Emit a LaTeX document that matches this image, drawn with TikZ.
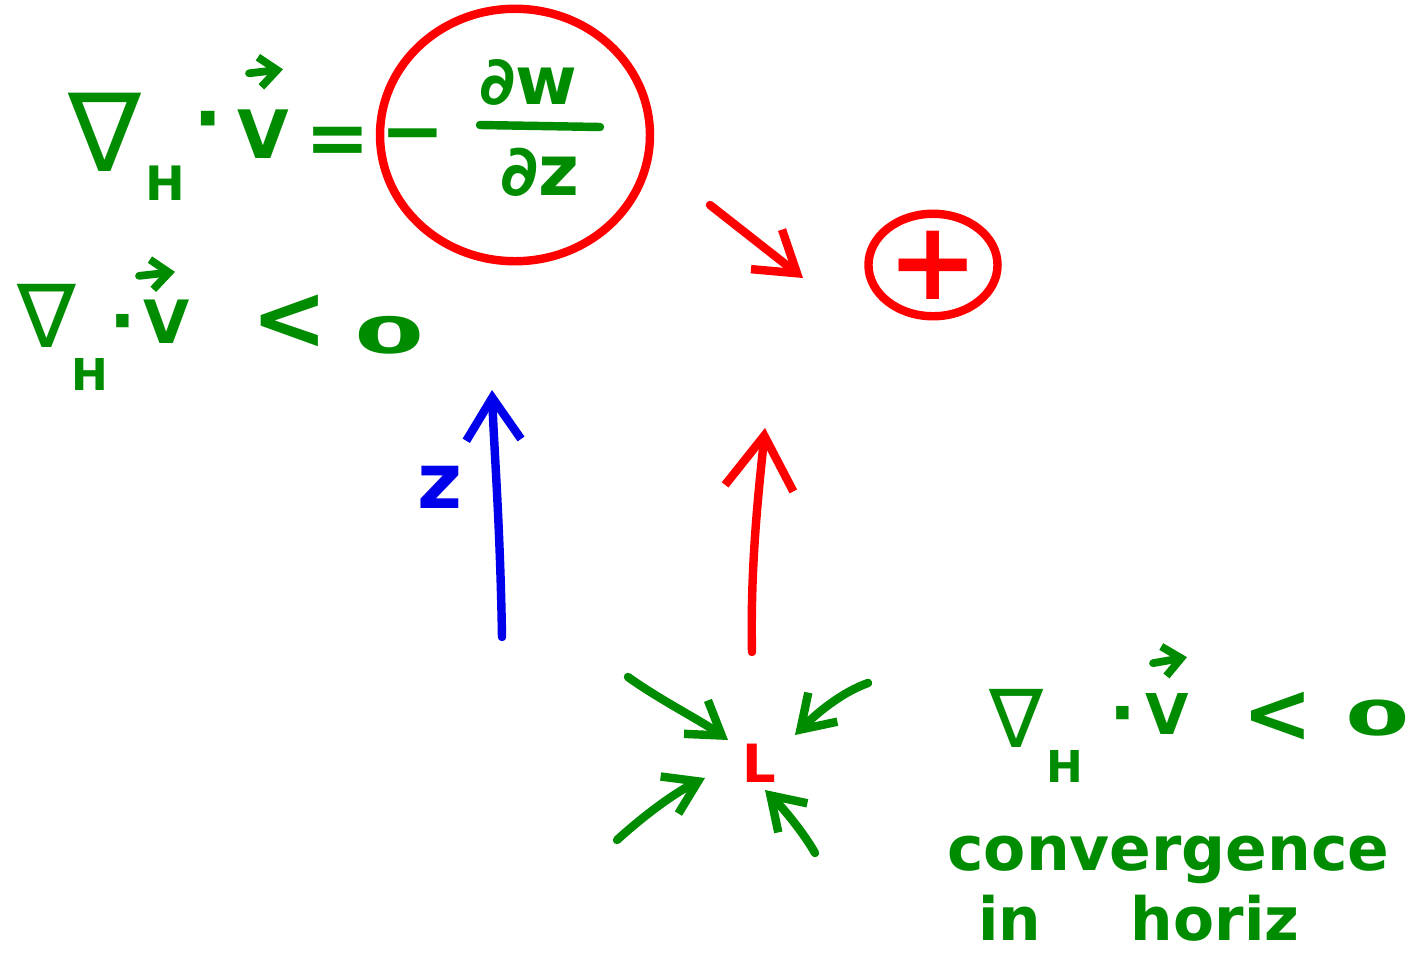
\documentclass[tikz,border=0pt]{standalone}
\usepackage{fontspec}
\setmainfont{DejaVu Sans}
\usetikzlibrary{arrows.meta,shapes.geometric,calc}
\definecolor{pengreen}{RGB}{0,140,0}
\definecolor{penred}{RGB}{255,0,0}
\definecolor{penblue}{RGB}{0,0,235}
\tikzset{
  txt/.style={inner sep=0pt, font=\bfseries\fontsize{#1}{#1}\selectfont},
  gtxt/.style={txt=#1, text=pengreen},
  ntxt/.style={inner sep=0pt, text=pengreen, font=\mdseries\fontsize{#1}{#1}\selectfont},
  rtxt/.style={txt=#1, text=penred},
  btxt/.style={txt=#1, text=penblue},
  pen/.style={line width=4.8pt, line cap=round, line join=round},
  barb/.style={-{Straight Barb[length=#1, width=1.3*#1]}},
  vecarrow/.style={pen, draw=pengreen, line width=4.4pt, -{Straight Barb[length=10pt,width=17pt]}},
}
\begin{document}
\begin{tikzpicture}[x=0.02cm, y=-0.02cm]
\useasboundingbox (0,0) rectangle (1416,957);

% ---- equation 1 ----
\node[ntxt=62] (nabla1) at (105,132) {∇};
\node[gtxt=27] (H1) at (165,183) {H};
\node[gtxt=44] (dot1) at (208,128) {·};
\node[gtxt=38] (V1) at (263,134) {V};
\draw[vecarrow] ($(V1.north)+(-14,-36)$) coordinate (v1a) -- ($(V1.north)+(20,-40)$) coordinate (v1b);
\node[gtxt=44] (eq1) at (338,146) {=};
\node[gtxt=44] (minus1) at (413,143) {−};
\node[gtxt=38] (dw) at (528,82) {∂w};
\coordinate (barL) at (480,125);
\coordinate (barR) at (600,127);
\draw[pen, pengreen] (barL) -- (barR);
\node[gtxt=40] (dz) at (540,172) {∂z};
\node[ellipse, draw=penred, pen, minimum width=5.4cm, minimum height=5.05cm, inner sep=0pt] (circ1) at (515,135) {};

% ---- equation 2 ----
\node[ntxt=50] (nabla2) at (47,316) {∇};
\node[gtxt=25] (H2) at (90,374) {H};
\node[gtxt=40] (dot2) at (123,330) {·};
\node[gtxt=34] (V2) at (167,322) {V};
\draw[vecarrow] ($(V2.north)+(-28,-24)$) coordinate (v2a) -- ($(V2.north)+(8,-28)$) coordinate (v2b);
\node[gtxt=52] (lt2) at (290,322) {<};
\node[gtxt=46] (zero2) at (390,335) {\scalebox{1.25}[0.62]{0}};

% ---- equation 3 ----
\node[ntxt=46] (nabla3) at (1017,718) {∇};
\node[gtxt=25] (H3) at (1065,766) {H};
\node[gtxt=40] (dot3) at (1123,722) {·};
\node[gtxt=32] (V3) at (1167,714) {V};
\draw[vecarrow] ($(V3.north)+(-14,-30)$) coordinate (v3a) -- ($(V3.north)+(20,-36)$) coordinate (v3b);
\node[gtxt=48] (lt3) at (1278,717) {<};
\node[gtxt=44] (zero3) at (1378,718) {\scalebox{1.2}[0.62]{0}};

% ---- circled plus ----
\node[ellipse, draw=penred, pen, rtxt=62, minimum width=2.25cm, minimum height=2.05cm] (plus) at (933,265) {+};
\coordinate (r1s) at (710,205);
\coordinate (r1e) at (803,278);
\draw[pen, penred, barb=22pt] (r1s) -- (r1e);

% ---- vertical arrows ----
\coordinate (zb) at (502,637);
\coordinate (zt) at (492,390);
\draw[pen, penblue, barb=24pt] (zb) .. controls (500,520) and (494,450) .. (zt);
\node[btxt=44] (zlab) at (440,487) {z};

\coordinate (ub) at (752,652);
\coordinate (ut) at (765,428);
\draw[pen, penred, barb=30pt] (ub) .. controls (750,560) and (760,480) .. (ut);

% ---- low centre ----
\node[rtxt=30] (L) at (759,763) {L};
\coordinate (g1s) at (628,677); \coordinate (g1e) at (728,740);
\coordinate (g2s) at (868,683); \coordinate (g2e) at (795,735);
\coordinate (g3s) at (617,840); \coordinate (g3e) at (705,778);
\coordinate (g4s) at (815,853); \coordinate (g4e) at (765,790);
\draw[pen, pengreen, barb=18pt] (g1s) .. controls (660,700) and (700,720) .. (g1e);
\draw[pen, pengreen, barb=18pt] (g2s) .. controls (840,693) and (815,715) .. (g2e);
\draw[pen, pengreen, barb=18pt] (g3s) .. controls (650,810) and (680,790) .. (g3e);
\draw[pen, pengreen, barb=18pt] (g4s) .. controls (805,835) and (785,810) .. (g4e);

% ---- caption ----
\node[gtxt=35, anchor=west] (conv) at (947,860) {convergence};
\node[gtxt=34, anchor=west] (horiz) at (978,918) {in\hspace{1.5em}horiz};
\end{tikzpicture}
\end{document}
